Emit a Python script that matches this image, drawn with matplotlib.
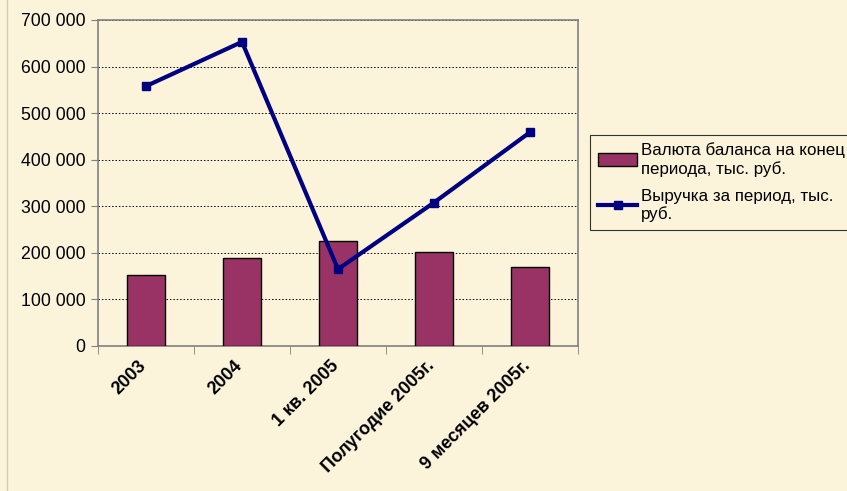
import matplotlib.pyplot as plt
import matplotlib.transforms as mtransforms
import numpy as np
from matplotlib.ticker import FuncFormatter, FixedLocator

# Данные с графика
categories = ["2003", "2004", "1 кв. 2005", "Полугодие 2005г.", "9 месяцев 2005г."]
balance = [152000, 188000, 225000, 201000, 170000]
revenue = [558000, 653000, 165000, 308000, 459000]

BG = "#fbf3da"

plt.rcParams['font.family'] = ['Liberation Sans', 'DejaVu Sans']

fig = plt.figure(figsize=(8.47, 4.91), dpi=100, facecolor=BG)
ax = fig.add_axes([98 / 847, 1 - 346 / 491, 480 / 847, 326 / 491])
ax.set_facecolor(BG)

x = np.arange(len(categories))
bars = ax.bar(x, balance, width=0.39, color="#993366", edgecolor="black", linewidth=1,
              label="Валюта баланса на конец\nпериода, тыс. руб.", zorder=3)
line, = ax.plot(x, revenue, color="#000080", linewidth=3, marker="s", markersize=6,
                label="Выручка за период, тыс.\nруб.", zorder=4)

ax.set_xlim(-0.5, len(categories) - 0.5)
ax.set_ylim(0, 700000)
ax.set_yticks(np.arange(0, 700001, 100000))
ax.yaxis.set_major_formatter(FuncFormatter(lambda v, p: "{:,.0f}".format(v).replace(",", " ")))
ax.grid(axis="y", color="black", linestyle=(0, (1.5, 2)), linewidth=0.7, zorder=1)

# Подписи категорий и риски между ними
ax.set_xticks(x)
ax.set_xticklabels(categories, rotation=45, ha="right", rotation_mode="anchor",
                   fontsize=13, fontweight="bold")
ax.tick_params(axis="x", length=0, pad=8)
shift = mtransforms.ScaledTranslation(-8 / 100, 0, fig.dpi_scale_trans)
for lab in ax.get_xticklabels():
    lab.set_transform(lab.get_transform() + shift)
ax.xaxis.set_minor_locator(FixedLocator(np.arange(-0.5, len(categories), 1)))
ax.tick_params(axis="x", which="minor", length=6, color="#808080", direction="out")
ax.tick_params(axis="y", labelsize=12.7, length=5, color="#808080", pad=4)

for s in ax.spines.values():
    s.set_color("#808080")
    s.set_linewidth(1.2)

leg = fig.legend(handles=[bars, line], loc="upper left", bbox_to_anchor=(590 / 847, 1 - 135 / 491),
                 fontsize=12.2, frameon=True, fancybox=False, edgecolor="black",
                 facecolor=BG, handlelength=2.35, handleheight=0.8, handletextpad=0.2,
                 borderpad=0.45, borderaxespad=0, labelspacing=0.7)
leg.get_frame().set_linewidth(0.8)
for t in leg.get_texts():
    t.set_linespacing(1.2)

# Линия края слайда слева
fig.add_artist(plt.Line2D([7 / 847, 7 / 847], [0, 1], color="#d8ccb0", linewidth=1))

fig.savefig("out.png", dpi=100, facecolor=BG)
